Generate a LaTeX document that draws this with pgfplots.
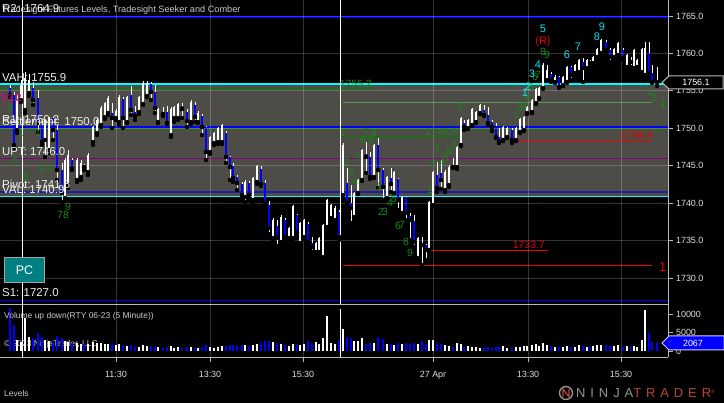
\documentclass[border=0pt]{standalone}
\usepackage{pgfplots}
\pgfplotsset{compat=1.18}
\usepackage{pgfplotstable}
\usepackage{fontspec}
\setmainfont{Liberation Sans}
\newfontfamily\logofont[LetterSpace=38]{Liberation Sans}

\definecolor{vabg}{RGB}{77,76,70}
\definecolor{lvlblue}{RGB}{0,0,255}
\definecolor{lvlcyan}{RGB}{0,255,255}
\definecolor{lvlgreen}{RGB}{0,128,0}
\definecolor{lvllgreen}{RGB}{90,150,80}
\definecolor{lvlpurple}{RGB}{128,0,128}
\definecolor{lvlnavy}{RGB}{30,30,170}
\definecolor{lvlred}{RGB}{235,0,0}
\definecolor{sgreen}{RGB}{25,135,25}
\definecolor{scyan}{RGB}{20,225,240}
\definecolor{txtgray}{RGB}{200,200,200}
\definecolor{lbltxt}{RGB}{238,238,238}
\definecolor{tklbl}{RGB}{225,222,215}
\definecolor{axgray}{RGB}{185,185,185}
\definecolor{pcteal}{RGB}{0,128,128}
\definecolor{ntred}{RGB}{185,70,55}
\definecolor{ntgray}{RGB}{150,150,150}

\pgfplotstableread{
x o h l c v
10 1755.38 1755.79 1754.18 1754.45 11700
14 1754.45 1754.85 1747.37 1747.77 7000
17 1749.77 1754.45 1749.37 1753.78 3000
21 1753.78 1756.45 1753.51 1755.79 2500
25 1752.45 1757.52 1752.04 1756.72 9000
29 1754.72 1757.25 1754.32 1756.45 3900
33 1755.38 1756.19 1753.12 1753.78 3600
38 1754.05 1755.12 1749.51 1750.71 5000
42 1750.44 1751.11 1747.77 1748.17 3800
45 1748.44 1751.11 1746.17 1751.11 3000
49 1747.10 1751.51 1746.70 1751.38 2800
53 1751.38 1751.51 1748.44 1749.77 2500
57 1749.77 1750.44 1743.10 1744.43 4200
62 1744.43 1745.37 1740.15 1741.36 3500
65 1740.69 1746.03 1740.42 1745.77 2800
68 1742.43 1747.10 1742.03 1746.43 2500
72 1745.77 1746.03 1744.43 1744.70 2200
77 1743.10 1746.03 1742.83 1745.77 2200
81 1743.50 1745.77 1743.10 1745.37 2000
84 1745.10 1745.23 1744.43 1744.83 1800
88 1744.16 1746.70 1743.76 1746.43 1900
93 1748.17 1750.31 1747.77 1750.17 2400
97 1749.37 1751.38 1749.10 1751.11 2200
101 1750.44 1752.98 1750.17 1752.71 2100
105 1751.51 1753.51 1751.24 1753.38 1900
108 1752.04 1754.32 1751.78 1754.05 1800
112 1752.04 1753.38 1750.04 1751.38 2100
116 1751.38 1752.58 1751.11 1752.31 1600
119 1750.84 1754.45 1750.44 1754.18 1800
123 1753.92 1754.18 1750.04 1751.38 1600
127 1750.84 1754.32 1750.71 1754.18 1400
131 1754.45 1755.65 1751.78 1752.45 1500
135 1752.18 1752.98 1751.11 1751.64 1200
139 1752.18 1754.32 1751.91 1754.18 1100
143 1753.25 1756.32 1753.12 1756.05 1600
147 1754.32 1756.32 1754.18 1756.05 1300
151 1755.92 1756.19 1753.78 1754.85 1200
155 1754.85 1755.79 1752.04 1752.71 1400
158 1750.84 1752.71 1750.71 1752.58 1200
163 1752.18 1752.85 1751.64 1751.91 900
167 1752.18 1752.98 1750.57 1750.71 1100
171 1749.10 1752.85 1748.84 1752.58 1300
174 1751.38 1752.98 1750.84 1752.85 900
178 1751.38 1753.38 1751.11 1753.25 1000
182 1752.98 1753.38 1751.38 1752.58 800
187 1752.18 1752.58 1750.17 1750.97 1000
191 1750.84 1753.78 1750.57 1753.51 1100
195 1753.12 1753.51 1750.84 1751.51 900
198 1750.84 1752.31 1750.71 1752.04 800
202 1751.64 1751.91 1749.10 1750.17 1100
206 1750.17 1750.31 1745.77 1746.84 1500
210 1746.84 1748.97 1746.57 1748.84 1200
214 1748.04 1749.51 1747.77 1749.37 900
218 1748.17 1750.17 1747.90 1750.04 1000
222 1748.17 1750.57 1747.90 1750.44 1300
226 1749.37 1749.64 1745.37 1746.17 1400
230 1746.17 1746.30 1743.10 1744.83 1600
233 1744.97 1745.37 1742.83 1743.36 1500
237 1743.50 1743.76 1741.76 1742.69 1300
242 1742.56 1742.83 1740.69 1741.09 1700
245 1740.82 1743.10 1740.15 1742.83 1500
249 1742.69 1742.96 1740.69 1741.09 1300
253 1740.42 1743.50 1740.02 1743.36 1600
257 1742.83 1745.10 1742.56 1744.97 1900
261 1744.56 1744.97 1742.29 1742.56 2100
265 1742.69 1743.10 1739.62 1740.02 2600
269 1739.75 1740.29 1735.88 1736.68 2800
273 1735.35 1738.02 1735.08 1737.75 2500
277 1736.95 1737.75 1734.28 1735.35 2200
281 1734.81 1738.42 1734.68 1738.15 2000
285 1737.75 1738.02 1735.08 1735.48 1500
289 1735.35 1736.82 1735.08 1736.68 1400
293 1735.35 1739.75 1735.08 1739.62 1800
297 1738.42 1738.55 1735.48 1736.02 1600
300 1734.68 1737.49 1734.41 1737.35 1500
304 1735.48 1737.89 1735.21 1737.75 1900
308 1737.22 1737.49 1734.41 1734.81 2700
312 1734.68 1735.48 1733.48 1734.14 2200
316 1733.48 1734.81 1733.34 1734.68 2500
319 1733.48 1735.48 1733.34 1735.35 2000
323 1732.81 1737.22 1732.68 1737.08 3600
327 1736.82 1740.55 1736.55 1740.42 9500
331 1738.02 1739.89 1737.89 1739.75 2200
335 1737.75 1739.62 1737.62 1739.35 1800
339 1738.82 1739.09 1735.08 1735.48 2900
343 1741.09 1748.04 1740.82 1747.77 6000
347 1742.69 1744.70 1739.75 1740.02 3900
351 1740.02 1742.43 1737.35 1739.35 3500
354 1738.15 1741.49 1738.02 1741.36 2600
358 1741.36 1743.23 1741.22 1743.10 2800
362 1743.10 1747.23 1742.96 1747.10 3500
366 1746.57 1748.17 1744.03 1746.17 2000
370 1746.17 1746.84 1743.23 1743.50 2300
374 1743.50 1747.90 1743.36 1747.77 2100
378 1747.77 1748.70 1742.03 1744.43 3700
383 1744.43 1744.70 1740.42 1742.16 3300
387 1740.69 1743.63 1740.55 1743.50 2000
391 1743.36 1744.70 1741.49 1742.56 1900
394 1741.36 1744.30 1741.22 1744.16 1700
398 1743.23 1743.36 1739.09 1740.42 2200
402 1738.69 1740.95 1738.55 1740.82 1800
406 1740.82 1740.95 1737.75 1738.69 2100
410 1738.29 1738.69 1735.08 1737.75 1900
414 1737.62 1738.42 1734.14 1734.81 2300
418 1732.68 1735.48 1732.54 1735.35 1800
422 1734.68 1735.48 1731.74 1734.41 2600
426 1734.41 1734.54 1732.41 1733.74 2000
429 1733.74 1740.29 1733.61 1740.15 2900
433 1739.75 1744.30 1739.62 1744.16 3100
437 1743.76 1745.50 1741.49 1742.03 2300
441 1744.03 1745.77 1741.89 1743.10 1800
445 1741.76 1744.43 1741.49 1744.16 1500
449 1742.43 1745.10 1742.16 1744.83 1300
453 1745.10 1746.03 1744.70 1744.83 1200
457 1744.83 1747.63 1744.56 1747.50 2200
461 1747.77 1751.51 1747.63 1751.38 1800
464 1750.71 1751.11 1749.77 1750.17 1100
468 1750.04 1751.24 1749.91 1751.11 1300
472 1750.44 1752.71 1750.31 1752.58 1200
476 1750.84 1752.31 1750.71 1752.18 1000
480 1752.04 1753.25 1751.91 1753.12 900
484 1752.45 1753.12 1751.64 1751.78 1100
488 1751.78 1752.85 1750.44 1750.71 1000
492 1750.84 1751.11 1749.64 1750.17 900
496 1750.31 1750.71 1748.70 1748.84 1200
499 1748.84 1750.04 1748.04 1748.17 1000
503 1748.44 1750.31 1748.30 1750.17 1300
507 1748.84 1750.17 1748.70 1750.04 900
512 1749.77 1750.04 1748.04 1748.44 800
516 1748.44 1750.17 1748.30 1750.04 1000
520 1749.51 1751.38 1749.37 1751.24 1100
524 1749.77 1751.64 1749.64 1751.51 1300
527 1752.04 1752.98 1751.91 1752.85 1400
532 1752.18 1753.92 1752.04 1753.78 1500
536 1753.38 1755.38 1753.25 1755.25 1800
539 1754.05 1755.52 1753.92 1755.38 1400
543 1755.38 1758.72 1755.25 1758.46 2100
547 1756.45 1758.46 1756.32 1757.79 1600
551 1757.25 1757.52 1756.19 1756.45 1300
555 1756.19 1757.12 1756.05 1756.85 1100
559 1756.85 1756.99 1755.38 1755.52 1200
563 1755.79 1756.99 1755.65 1756.85 1000
567 1756.19 1758.32 1756.05 1758.19 1300
571 1758.19 1758.32 1756.45 1757.12 1200
575 1757.39 1758.59 1757.25 1758.46 1000
579 1757.52 1759.26 1757.39 1759.12 1500
583 1758.86 1759.39 1756.19 1758.06 1400
587 1758.06 1759.26 1757.92 1759.12 1100
590 1758.99 1759.12 1758.59 1758.72 1000
593 1758.72 1759.66 1758.59 1759.53 1300
597 1759.53 1760.73 1759.39 1760.59 1600
601 1760.06 1761.93 1759.93 1761.80 1700
606 1761.53 1761.80 1760.19 1760.46 1500
610 1760.46 1760.73 1758.86 1759.53 1400
614 1759.53 1760.73 1759.39 1760.59 1300
618 1759.79 1761.53 1759.66 1761.40 1500
623 1760.46 1760.73 1759.12 1759.39 1200
627 1758.19 1759.93 1758.06 1759.79 1400
631 1758.99 1759.53 1758.19 1758.86 1100
634 1758.06 1760.59 1757.92 1760.46 1300
637 1758.19 1759.26 1758.06 1759.12 1200
642 1757.52 1760.73 1757.39 1760.59 3000
645 1757.12 1761.53 1756.99 1760.73 11200
649 1760.06 1761.53 1757.25 1757.39 5000
652 1757.39 1758.46 1756.05 1756.19 2400
657 1756.45 1758.19 1755.65 1756.12 2067
}\bars

\pgfplotsset{
  panel/.style={
    scale only axis, anchor=south west, width=668bp,
    xmin=0, xmax=668, axis on top, clip=true,
    axis x line*=bottom, axis y line*=right,
    axis line style={axgray, line width=0.9bp, -},
    xtick={116,210,303,433,528,621},
    tick align=outside, major tick length=4.5bp,
    tick style={axgray, line width=0.8bp},
    grid=major, major grid style={white, opacity=0.2, line width=0.8bp},
    yticklabel style={font=\fontsize{9}{10}\selectfont, text=tklbl},
    xticklabel style={font=\fontsize{9}{10}\selectfont, text=tklbl, yshift=-6.5bp},
    scaled y ticks=false,
    /pgf/number format/assume math mode=true,
    /pgf/number format/1000 sep={},
  },
  lvl/.style={mark=none, line width=#1},
}
\newcommand{\lbl}{\fontsize{11.5}{12}\selectfont}
\newcommand{\snum}{\fontsize{10.5}{11}\selectfont}

\begin{document}
\begin{tikzpicture}
\useasboundingbox (0,0) rectangle (724bp,403bp);
\fill[black] (0,0) rectangle (724bp,403bp);
\begin{scope}[x=1bp,y=-1bp,shift={(0,403bp)}]
  \node[anchor=west, inner sep=0, text=txtgray, font=\fontsize{8.5}{9}\selectfont] at (4,344) {\textcopyright{} 2023 NinjaTrader, LLC};
\end{scope}

% ---------------- price panel
\begin{axis}[panel, at={(0,99bp)}, height=304bp,
  ymin=1726.53, ymax=1767.14,
  xticklabels={}, xtick style={draw=none},
  ytick={1730,1735,...,1765},
  yticklabel style={/pgf/number format/fixed, /pgf/number format/fixed zerofill, /pgf/number format/precision=1},
]
\addplot[draw=none, fill=vabg] coordinates {(0,1740.9) (0,1755.9) (668,1755.9) (668,1740.9) (0,1740.9)};
\addplot[lvl=1.5bp, lvlblue] coordinates {(0,1764.9) (668,1764.9)};
\addplot[lvl=1.5bp, lvlgreen] coordinates {(0,1755.2) (372,1755.2)};
\addplot[lvl=1.5bp, lvlcyan] coordinates {(0,1755.9) (668,1755.9)};
\addplot[lvl=1bp, lvllgreen] coordinates {(343,1753.4) (652,1753.4)};
\addplot[lvl=1.3bp, lvlgreen] coordinates {(0,1750.0) (668,1750.0)};
\addplot[lvl=1.5bp, lvlblue] coordinates {(0,1750.2) (668,1750.2)};
\addplot[lvl=1bp, lvlgreen] coordinates {(343,1748.8) (460,1748.8)};
\addplot[lvl=1.5bp, lvlred] coordinates {(516,1748.4) (652,1748.4)};
\addplot[lvl=1.1bp, lvlpurple] coordinates {(0,1746.0) (668,1746.0)};
\addplot[lvl=1.2bp, lvlnavy] coordinates {(0,1741.5) (668,1741.5)};
\addplot[lvl=1.5bp, lvlcyan] coordinates {(0,1740.9) (668,1740.9)};
\addplot[lvl=1.5bp, lvlred] coordinates {(430,1733.7) (548,1733.7)};
\addplot[lvl=1bp, lvlred] coordinates {(343,1731.7) (652,1731.7)};
\addplot[lvl=1.5bp, lvlblue] coordinates {(0,1727.0) (668,1727.0)};
\addplot[lvl=1bp, white] coordinates {(22,1726.53) (22,1767.14)};
\addplot[lvl=1bp, white] coordinates {(340,1726.53) (340,1767.14)};
% wicks
\addplot[only marks, mark=none, error bars/.cd, y dir=plus, y explicit, error mark=none,
  error bar style={draw=white, line width=1bp}]
  table[x=x, y=l, y error expr=\thisrow{h}-\thisrow{l}] {\bars};
% up bodies (all, white)
\addplot[only marks, mark=none, error bars/.cd, y dir=plus, y explicit, error mark=none,
  error bar style={draw=white, line width=1.9bp}]
  table[x=x, y expr={min(\thisrow{o},\thisrow{c})}, y error expr={max(abs(\thisrow{c}-\thisrow{o}),0.15)}] {\bars};
% down bodies blue
\addplot[only marks, mark=none, y filter/.expression={\thisrow{c}<\thisrow{o} ? y : nan},
  error bars/.cd, y dir=plus, y explicit, error mark=none,
  error bar style={draw=lvlblue, line width=2.8bp}]
  table[x=x, y expr={min(\thisrow{o},\thisrow{c})}, y error expr={max(abs(\thisrow{c}-\thisrow{o}),0.15)}] {\bars};
\end{axis}

% ---------------- volume panel
\begin{axis}[panel, at={(0,46bp)}, height=53bp,
  ymin=-1635, ymax=12807, ymajorgrids=false,
  xticklabels={11:30,13:30,15:30,27 Apr,13:30,15:30},
  ytick={0,5000,10000},
]
\addplot[lvl=1bp, white] coordinates {(22,-1635) (22,12807)};
\addplot[lvl=1bp, white] coordinates {(340,-1635) (340,11500)};
\addplot[ycomb, mark=none, white, line width=2bp] table[x=x, y=v] {\bars};
\addplot[ycomb, mark=none, lvlblue, line width=2.2bp, y filter/.expression={\thisrow{c}<\thisrow{o} ? y : nan}] table[x=x, y=v] {\bars};
\end{axis}

% ---------------- texts
\begin{scope}[x=1bp,y=-1bp,shift={(0,403bp)}]
  \node[anchor=west, inner sep=0, text=txtgray, font=\fontsize{9.2}{10}\selectfont] at (2,10) {Tradesight Futures Levels, Tradesight Seeker and Comber};
  \node[anchor=west, inner sep=0, text=lbltxt, font=\lbl] at (2,9) {R2: 1764.9};
  \node[anchor=west, inner sep=0, text=lbltxt, font=\lbl] at (2,77.5) {VAH: 1755.9};
  \node[anchor=west, inner sep=0, text=lbltxt, font=\lbl] at (2,120) {R1: 1750.2};
  \node[anchor=west, inner sep=0, text=lbltxt, font=\lbl] at (2,121) {Settlement: 1750.0};
  \node[anchor=west, inner sep=0, text=lbltxt, font=\lbl] at (2,152) {UPT: 1746.0};
  \node[anchor=west, inner sep=0, text=lbltxt, font=\lbl] at (2,184) {Pivot: 1741.5};
  \node[anchor=west, inner sep=0, text=lbltxt, font=\lbl] at (2,190) {VAL: 1740.9};
  \node[anchor=west, inner sep=0, text=lbltxt, font=\lbl] at (2,293) {S1: 1727.0};
  \node[anchor=east, inner sep=0, text=magenta, font=\snum] at (22,98) {1753.2};
  \node[anchor=east, inner sep=0, text=sgreen, font=\snum] at (372,84) {1755.2};
  \node[anchor=east, inner sep=0, text=sgreen, font=\snum] at (458,132) {1748.8};
  \node[anchor=east, inner sep=0, text=lvlred, font=\snum] at (653,135) {1748.4};
  \node[anchor=east, inner sep=0, text=lvlred, font=\snum] at (545,245) {1733.7};
  \node[anchor=west, inner sep=0, text=lvlred, font=\fontsize{13}{14}\selectfont] at (659,267) {1};
  % seeker / comber counts
  \foreach \xx/\yy/\tt in {10/108/5, 21/133/1, 38/133/1, 15/160/6, 42/169/2, 50/169/4, 26/177/8, 68/207/9, 60/215/7, 66/215/8,
     343/133/1, 347/162/2, 351/173/3, 355/182/4, 358/158/5, 363/140/6, 366/132/7, 371/140/8, 374/133/9,
     379/187/1, 381/212/2, 385/212/3, 390/203/4, 394/199/5, 398/226/6, 402/225/7, 406/242/8, 410/253/9,
     430/190/1, 433/163/2, 437/148/3, 442/162/4, 446/158/5, 449/151/6, 454/146/7, 460/107/8,
     516/115/1, 520/107/2, 524/106/3, 527/98/4, 531/87/5, 535/77/6, 538/75/7, 543/52/8, 547/55/9,
     650/92/1, 654/98/2}
     {\node[inner sep=0, text=sgreen, font=\snum] at (\xx,\yy) {\tt};}
  \foreach \xx/\yy/\tt in {525/93/1, 528/87/2, 532/74/3, 538/65/4, 543/29/5, 567/55/6, 578/47/7, 597/37/8, 602/27/9}
     {\node[inner sep=0, text=scyan, font=\fontsize{11}{12}\selectfont] at (\xx,\yy) {\tt};}
  \node[inner sep=0, text=lvlred, font=\fontsize{11}{12}\selectfont] at (543,42) {(R)};
  \node[inner sep=0, text=sgreen, font=\fontsize{14}{15}\selectfont] at (663,104) {1};
  % PC box
  \node[fill=pcteal, draw=gray!70, line width=1bp, minimum width=39bp, minimum height=25bp, inner sep=0,
        text=white, font=\fontsize{12.5}{13}\selectfont] at (24.5,270.5) {PC};
  % current price tag
  \draw[fill=black, draw=axgray, line width=1bp] (662,82.5) -- (669,76) -- (723,76) -- (723,89) -- (669,89) -- cycle;
  \node[inner sep=0, text=white, font=\fontsize{9}{10}\selectfont] at (696,82.5) {1756.1};
  % volume tag
  \draw[fill=lvlblue, draw=white!80!blue, line width=1bp] (662,343) -- (669,336) -- (724,336) -- (724,350) -- (669,350) -- cycle;
  \node[inner sep=0, text=white, font=\fontsize{9}{10}\selectfont] at (693,343) {2067};
  % volume title
  \node[anchor=west, inner sep=0, text=txtgray, font=\fontsize{8.5}{9}\selectfont] at (4,316) {Volume up down(RTY 06-23 (5 Minute))};
  % footer
  \node[anchor=west, inner sep=0, text=txtgray, font=\fontsize{8.5}{9}\selectfont] at (4,393) {Levels};
  \draw[ntgray, line width=1.3bp] (566,393) circle (6.5);
  \draw[ntred, line width=1.3bp] (563,397) -- (563,389) -- (569,397) -- (569,389);
  \node[anchor=west, inner sep=0, font=\logofont\fontsize{13}{14}\selectfont] at (576,393)
     {\textcolor{ntgray}{NINJA}\textcolor{ntred}{TRADER}\textsuperscript{\textcolor{ntred}{\tiny ®}}};
\end{scope}
\end{tikzpicture}
\end{document}
